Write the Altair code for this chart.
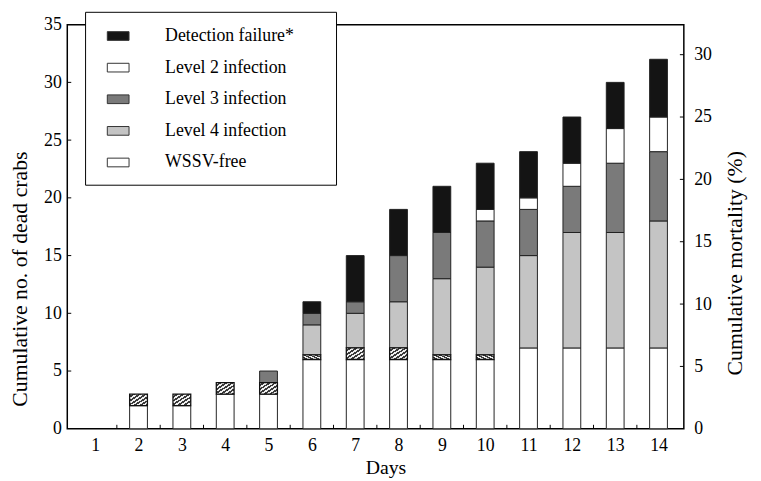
import altair as alt
import pandas as pd

# ---------------- data ----------------
days = list(range(1, 15))
wssv_free   = [0, 2, 2, 3, 3, 6, 6, 6, 6, 6, 7, 7, 7, 7]
hatched     = [0, 1, 1, 1, 1, 0.4, 1, 1, 0.4, 0.4, 0, 0, 0, 0]
level4      = [0, 0, 0, 0, 0, 2.6, 3, 4, 6.6, 7.6, 8, 10, 10, 11]
level3      = [0, 0, 0, 0, 1, 1, 1, 4, 4, 4, 4, 4, 6, 6]
level2      = [0, 0, 0, 0, 0, 0, 0, 0, 0, 1, 1, 2, 3, 3]
det_failure = [0, 0, 0, 0, 0, 1, 4, 4, 4, 4, 4, 4, 4, 5]

legend_order = ["Detection failure*", "Level 2 infection", "Level 3 infection",
                "Level 4 infection", "WSSV-free"]
legend_colors = ["#141414", "#ffffff", "#7a7a7a", "#c4c4c4", "#ffffff"]

y_ticks = [0, 5, 10, 15, 20, 25, 30, 35]
pct_ticks = [0, 5, 10, 15, 20, 25, 30]
minor_x = [1.5, 2.5, 3.5, 4.5, 5.5, 6.5, 7.5, 8.5, 9.5, 10.5, 11.5, 12.5, 13.5]
total_crabs = 108

# stacking order bottom -> top
series = [("WSSV-free", wssv_free), ("hatched", hatched),
          ("Level 4 infection", level4), ("Level 3 infection", level3),
          ("Level 2 infection", level2), ("Detection failure*", det_failure)]
rows = []
for order, (name, vals) in enumerate(series):
    for d, v in zip(days, vals):
        rows.append({"day": d, "cat": name, "count": v, "order": order})
df = pd.DataFrame(rows)

W, H = 624, 409
FONT = "Liberation Serif"

xscale = alt.Scale(domain=[0.47, 14.47], nice=False, zero=False)
yscale = alt.Scale(domain=[0, 35], nice=False)
pscale = alt.Scale(domain=[0, 35 * 100 / total_crabs], nice=False)

x_axis = alt.Axis(title="Days", values=days, ticks=False, domain=False, grid=False,
                  labelPadding=8, labelFontSize=18, titleFontSize=20,
                  titleFontWeight="normal", titleX=322, titleY=29, titleBaseline="top")
y_axis = alt.Axis(title="Cumulative no. of dead crabs", values=y_ticks, ticks=False,
                  domain=False, grid=False, labelPadding=6, labelFontSize=18,
                  titleFontSize=22, titleFontWeight="normal", titleX=-36, titleY=257,
                  titleBaseline="bottom", titleAngle=270)
p_axis = alt.Axis(title="Cumulative mortality (%)", orient="right", values=pct_ticks,
                  ticks=False, domain=False, grid=False, labelPadding=10,
                  labelFontSize=18, titleFontSize=22, titleFontWeight="normal",
                  titleAngle=270, titleX=63, titleY=241, titleBaseline="bottom")

base = alt.Chart(df).transform_stack(
    stack="count", as_=["y0", "y1"], groupby=["day"],
    sort=[alt.SortField("order", order="ascending")]
).transform_filter("datum.count > 0")

bars = base.transform_filter(
    alt.FieldOneOfPredicate(field="cat", oneOf=legend_order)
).mark_bar(size=18, stroke="#222", strokeWidth=1).encode(
    x=alt.X("day:Q", scale=xscale, axis=x_axis),
    y=alt.Y("y0:Q", scale=yscale, axis=y_axis),
    y2="y1:Q",
    color=alt.Color("cat:N", scale=alt.Scale(domain=legend_order, range=legend_colors),
                    legend=alt.Legend(
                        title="\u00a0", titleOrient="right", titlePadding=30,
                        titleFontSize=18,
                        orient="none", legendX=18, legendY=-13,
                        fillColor="white", strokeColor="black", padding=13,
                        symbolType="M-1,-0.4H1V0.4H-1Z", symbolSize=484,
                        symbolStrokeColor="#333", symbolStrokeWidth=1,
                        symbolOffset=9, labelOffset=36, rowPadding=11,
                        labelFont=FONT, labelFontSize=18, labelColor="black")),
)

n = 6
stops = []
for k in range(n):
    a, b, c = k / n, (k + 0.5) / n, (k + 1) / n
    stops += [{"offset": a, "color": "#f0f0f0"}, {"offset": b, "color": "#f0f0f0"},
              {"offset": b, "color": "#3a3a3a"}, {"offset": c, "color": "#3a3a3a"}]
hatch_fill = {"gradient": "linear", "x1": 0, "y1": 0, "x2": 1, "y2": 1, "stops": stops}

hatch = base.transform_filter(alt.datum.cat == "hatched").mark_bar(
    size=18, fill=hatch_fill, stroke="#111", strokeWidth=1.3
).encode(
    x=alt.X("day:Q", scale=xscale, axis=x_axis),
    y=alt.Y("y0:Q", scale=yscale, axis=y_axis),
    y2="y1:Q",
)

xt = alt.Chart(pd.DataFrame({"xv": minor_x})).mark_rule(color="black", strokeWidth=1).encode(
    x=alt.X("xv:Q", scale=xscale, axis=x_axis),
    y=alt.value(H), y2=alt.value(H - 4),
)
lt = alt.Chart(pd.DataFrame({"v": y_ticks[1:-1]})).mark_rule(color="black", strokeWidth=1).encode(
    y=alt.Y("v:Q", scale=yscale, axis=y_axis),
    x=alt.value(0), x2=alt.value(4),
)
left = alt.layer(bars, hatch, xt, lt)

rt = alt.Chart(pd.DataFrame({"p": pct_ticks[1:]})).mark_rule(color="black", strokeWidth=1).encode(
    y=alt.Y("p:Q", scale=pscale, axis=p_axis),
    x=alt.value(W - 4), x2=alt.value(W),
)

chart = alt.layer(left, rt).resolve_scale(y="independent").properties(
    width=W, height=H,
    padding={"left": 60, "top": 14, "right": 70, "bottom": 50},
    autosize=alt.AutoSizeParams(type="none"),
).configure_view(stroke="black", strokeWidth=1.5).configure_axis(
    labelFont=FONT, titleFont=FONT, labelColor="black", titleColor="black"
)

chart.save("out.html", embed_options={"renderer": "svg", "actions": False})
